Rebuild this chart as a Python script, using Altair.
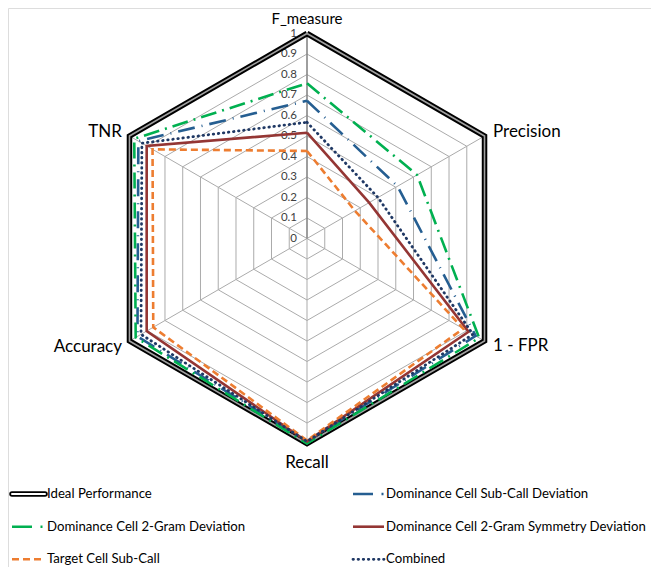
import math
import altair as alt
import pandas as pd

# ---------------- data ----------------
axes = ["F_measure", "Precision", "1 - FPR", "Recall", "Accuracy", "TNR"]
tick_levels = [0, 0.1, 0.2, 0.3, 0.4, 0.5, 0.6, 0.7, 0.8, 0.9, 1]
tick_labels = ["0", "0.1", "0.2", "0.3", "0.4", "0.5", "0.6", "0.7", "0.8", "0.9", "1"]

series_names = [
    "Ideal Performance",
    "Dominance Cell Sub-Call Deviation",
    "Dominance Cell 2-Gram Deviation",
    "Dominance Cell 2-Gram Symmetry Deviation",
    "Target Cell Sub-Call",
    "Combined",
]
ideal = [1, 1, 1, 1, 1, 1]
dom_subcall = [0.672, 0.51, 0.95, 0.99, 0.955, 0.95]
dom_2gram = [0.757, 0.62, 0.97, 1.0, 0.965, 0.973]
dom_symmetry = [0.516, 0.35, 0.91, 0.99, 0.903, 0.903]
target_subcall = [0.427, 0.27, 0.88, 0.985, 0.866, 0.87]
combined = [0.567, 0.40, 0.935, 0.99, 0.935, 0.93]
series_values = [ideal, dom_subcall, dom_2gram, dom_symmetry, target_subcall, combined]

# ---------------- layout ----------------
W, H = 643, 559
CX, CY, R = 307, 238.5, 205  # page pixels of the radar centre and unit radius
FONT = "Lato"


def ux(px):
    return (px - CX) / R


def uy(py):
    return (CY - py) / R


xs = alt.Scale(domain=[ux(8), ux(8 + W)], nice=False, zero=False)
ys = alt.Scale(domain=[uy(8 + H), uy(8)], nice=False, zero=False)
X = lambda f: alt.X(f, type="quantitative", scale=xs, axis=None)
Y = lambda f: alt.Y(f, type="quantitative", scale=ys, axis=None)

styles = {
    "Ideal Performance": dict(color="#000000"),
    "Dominance Cell Sub-Call Deviation": dict(color="#255E91", width=2.6, dash=[17, 7, 1, 7],
                                              ldash=[20, 8.5, 2, 8]),
    "Dominance Cell 2-Gram Deviation": dict(color="#00B050", width=2.6, dash=[16, 6, 2, 6],
                                            ldash=[20, 8.5, 2, 8]),
    "Dominance Cell 2-Gram Symmetry Deviation": dict(color="#943634", width=2.6, dash=None, ldash=None),
    "Target Cell Sub-Call": dict(color="#ED7D31", width=2.6, dash=[7, 4], ldash=[7, 4]),
    "Combined": dict(color="#1F3864", width=2.8, dash=[0.5, 4.6], ldash=[0.5, 4.6], cap="round"),
}
# legend grid: (column, row)
legend_cells = [(0, 0), (1, 0), (0, 1), (1, 1), (0, 2), (1, 2)]
legend_sw_x = [ux(12), ux(353)]
legend_sw_x2 = [ux(45), ux(384)]
legend_tx_x = [ux(47), ux(386)]
legend_row_y = [uy(494), uy(526.7), uy(559.3)]

# ---------------- tables ----------------
rows = []
for name, vals in zip(series_names, series_values):
    for k in range(7):
        i = k % 6
        rows.append({"series": name, "k": k, "ai": i, "v": vals[i]})
sdf = pd.DataFrame(rows)

ring_rows = []
for lv in tick_levels[1:]:
    for k in range(7):
        ring_rows.append({"level": lv, "k": k, "ai": k % 6})
ring_df = pd.DataFrame(ring_rows)

spoke_df = pd.DataFrame({"axis": axes, "ai": list(range(6))})
tick_df = pd.DataFrame({"level": tick_levels, "label": tick_labels})

polar = dict(
    px="datum.v * sin(datum.ai * PI / 3)",
    py="datum.v * cos(datum.ai * PI / 3)",
)

# grid rings
rings = alt.Chart(ring_df).transform_calculate(
    px="datum.level * sin(datum.ai * PI / 3)",
    py="datum.level * cos(datum.ai * PI / 3)",
).mark_line(color="#ababab", strokeWidth=1).encode(
    x=X("px"), y=Y("py"), order="k:Q", detail="level:N"
)

spokes = alt.Chart(spoke_df).transform_calculate(
    x0="0", y0="0",
    px="sin(datum.ai * PI / 3)",
    py="cos(datum.ai * PI / 3)",
).transform_filter("datum.ai != 0").mark_rule(color="#ababab", strokeWidth=1).encode(
    x=X("x0"), y=Y("y0"), x2="px:Q", y2="py:Q"
)
value_axis = alt.Chart(spoke_df).transform_filter("datum.ai == 0").transform_calculate(
    x0="0", y0="0", py="1"
).mark_rule(color="#868686", strokeWidth=1.6).encode(
    x=X("x0"), y=Y("y0"), x2="x0:Q", y2="py:Q"
)

ticks = alt.Chart(tick_df).transform_calculate(tx=str(ux(297))).mark_text(
    align="right", baseline="middle", font=FONT, fontSize=11.5, color="#404040", dy=0
).encode(x=X("tx"), y=Y("level"), text="label:N")

# axis category labels: (align, baseline, dx, dy, size)
label_pos = {
    "F_measure": ("center", "top", 0, uy(12) - 1.0, 15),
    "Recall": ("center", "middle", 0, uy(463) + 1.0, 17),
    "Precision": ("left", "middle", ux(493) - math.sin(math.pi / 3), uy(132) - 0.5, 17),
    "1 - FPR": ("left", "middle", ux(493) - math.sin(math.pi / 3), uy(345.5) + 0.5, 17),
    "Accuracy": ("right", "middle", ux(122) + math.sin(math.pi / 3), uy(346.5) + 0.5, 17),
    "TNR": ("right", "middle", ux(122) + math.sin(math.pi / 3), uy(132) - 0.5, 17),
}
label_layers = []
for ai, name in enumerate(axes):
    al, bl, dx, dy, fs = label_pos[name]
    label_layers.append(
        alt.Chart(spoke_df).transform_filter(f"datum.ai == {ai}").transform_calculate(
            lx=f"sin(datum.ai * PI / 3) + {dx}",
            ly=f"cos(datum.ai * PI / 3) + {dy}",
        ).mark_text(align=al, baseline=bl, font=FONT, fontSize=fs, color="#000000").encode(
            x=X("lx"), y=Y("ly"), text="axis:N"
        )
    )

# series lines + legend
series_layers = []
legend_layers = []
for idx, name in enumerate(series_names):
    st = styles[name]
    base = alt.Chart(sdf).transform_filter(alt.datum.series == name).transform_calculate(**polar)
    col, row = legend_cells[idx]
    leg = alt.Chart(pd.DataFrame({"series": [name]})).transform_calculate(
        sx=str(legend_sw_x[col]), sx2=str(legend_sw_x2[col]),
        tx=str(legend_tx_x[col]), ty=str(legend_row_y[row]),
    )
    if name == "Ideal Performance":
        series_layers.append(base.mark_line(color="#000000", strokeWidth=5.5, strokeJoin="miter").encode(
            x=X("px"), y=Y("py"), order="k:Q"))
        series_layers.append(base.mark_line(color="#a0a0a0", strokeWidth=1.6, strokeJoin="miter").encode(
            x=X("px"), y=Y("py"), order="k:Q"))
        legend_layers.append(leg.mark_rule(color="#000000", strokeWidth=5.5, strokeCap="round").encode(
            x=X("sx"), x2="sx2:Q", y=Y("ty")))
        legend_layers.append(leg.mark_rule(color="#ffffff", strokeWidth=2, strokeCap="round").encode(
            x=X("sx"), x2="sx2:Q", y=Y("ty")))
    else:
        kw = dict(color=st["color"], strokeWidth=st["width"], strokeJoin="miter")
        lkw = dict(color=st["color"], strokeWidth=st["width"])
        if st.get("dash"):
            kw["strokeDash"] = st["dash"]
        if st.get("ldash"):
            lkw["strokeDash"] = st["ldash"]
        if st.get("cap"):
            kw["strokeCap"] = st["cap"]
            lkw["strokeCap"] = st["cap"]
        series_layers.append(base.mark_line(**kw).encode(x=X("px"), y=Y("py"), order="k:Q"))
        legend_layers.append(leg.mark_rule(**lkw).encode(x=X("sx"), x2="sx2:Q", y=Y("ty")))
    legend_layers.append(leg.mark_text(align="left", baseline="middle", font=FONT, fontSize=13.2,
                                       color="#000000").encode(x=X("tx"), y=Y("ty"), text="series:N"))

chart = alt.layer(
    rings, spokes, value_axis, ticks, *label_layers, *series_layers, *legend_layers
).properties(
    width=W, height=H, padding=0, autosize=alt.AutoSizeParams(type="none")
).configure_view(strokeWidth=0).configure(background="white")

chart.save("out.html", embed_options={"renderer": "svg", "actions": False})
